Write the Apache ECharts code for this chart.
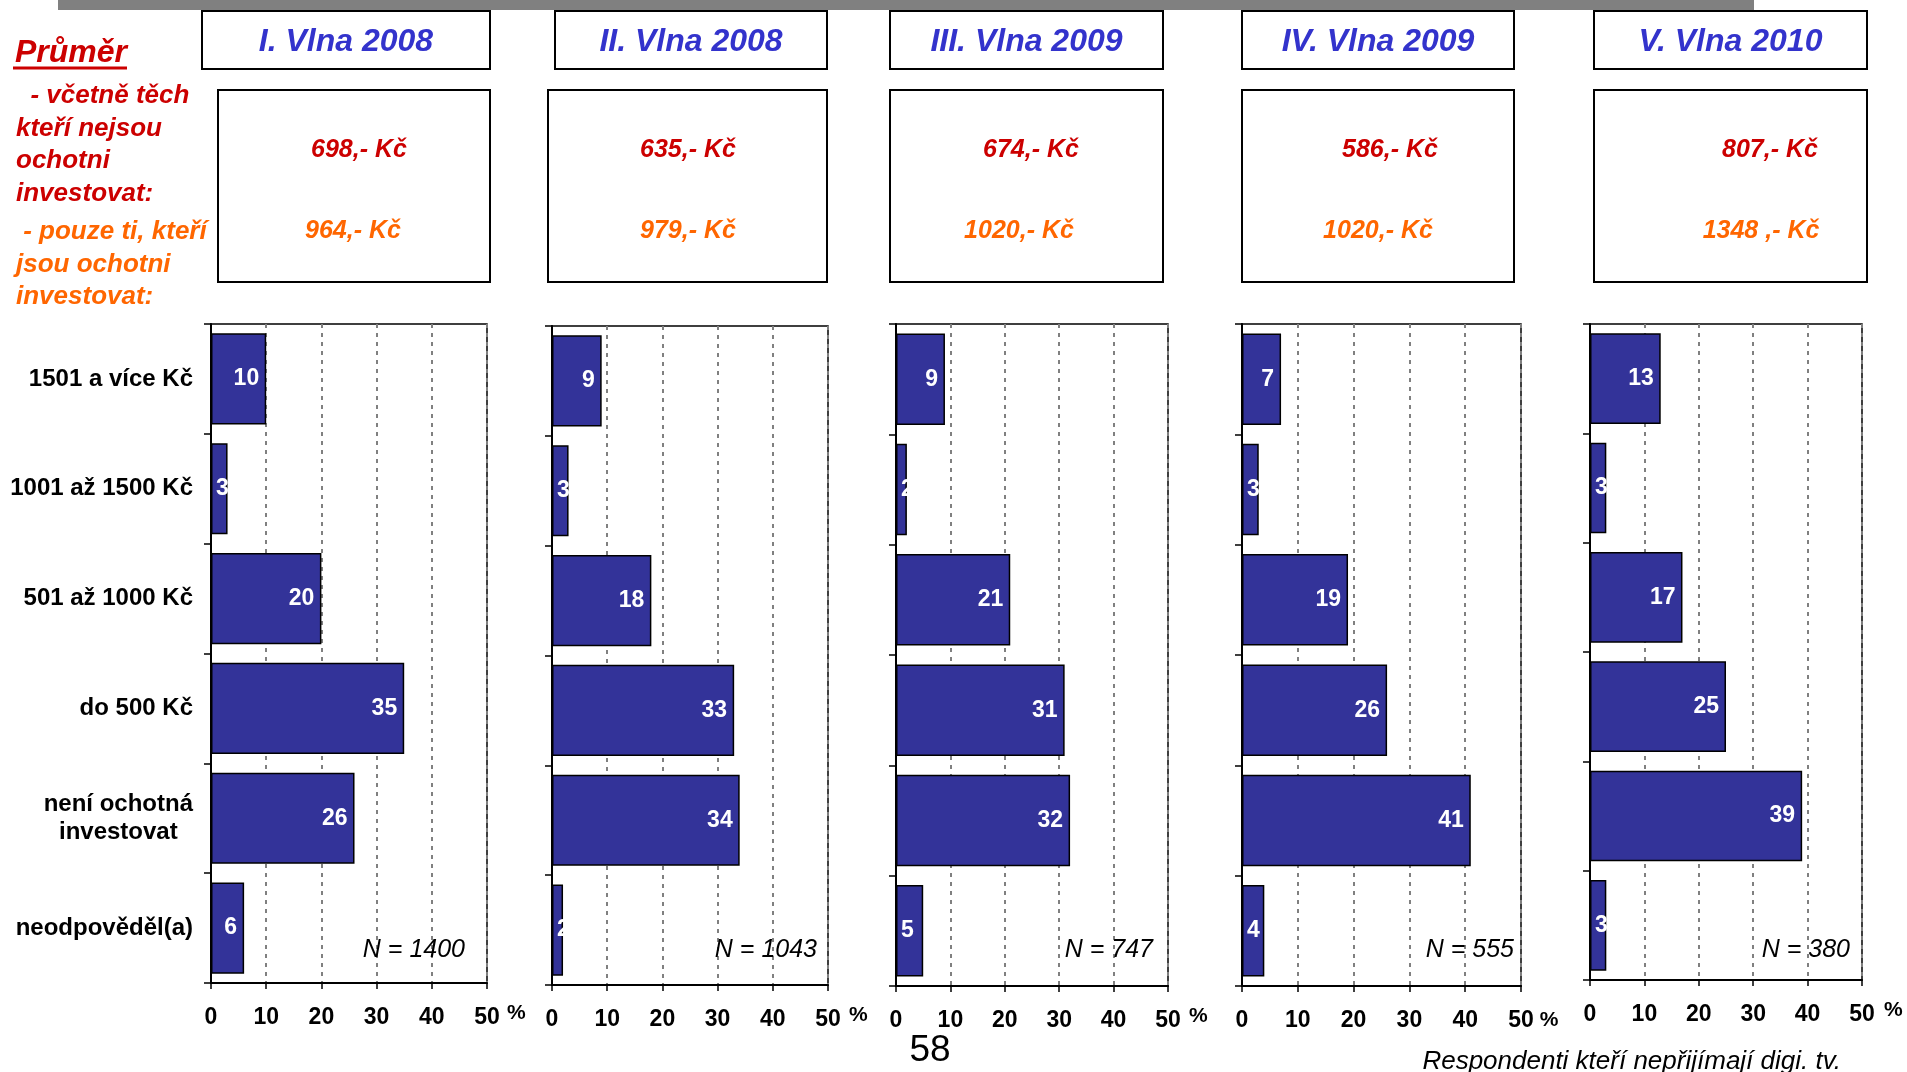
<!DOCTYPE html>
<html><head><meta charset="utf-8">
<script src="https://cdn.jsdelivr.net/npm/echarts@6/dist/echarts.min.js"></script>
<style>html,body{margin:0;padding:0;background:#fff;overflow:hidden}#c{width:1907px;height:1072px}</style>
</head><body><div id="c"></div>
<script>
// ---------- DATA ----------
const categories = ['1501 a více Kč', '1001 až 1500 Kč', '501 až 1000 Kč', 'do 500 Kč', 'není ochotná\ninvestovat', 'neodpověděl(a)'];
const waves = ['I. Vlna 2008', 'II. Vlna 2008', 'III. Vlna 2009', 'IV. Vlna 2009', 'V. Vlna 2010'];
const wave1 = [10, 3, 20, 35, 26, 6];
const wave2 = [9, 3, 18, 33, 34, 2];
const wave3 = [9, 2, 21, 31, 32, 5];
const wave4 = [7, 3, 19, 26, 41, 4];
const wave5 = [13, 3, 17, 25, 39, 3];
const avgAll = ['698,- Kč', '635,- Kč', '674,- Kč', '586,- Kč', '807,- Kč'];
const avgWilling = ['964,- Kč', '979,- Kč', '1020,- Kč', '1020,- Kč', '1348 ,- Kč'];
const sampleN = ['N = 1400', 'N = 1043', 'N = 747', 'N = 555', 'N = 380'];
const legendTitle = 'Průměr';
const legendAll = '  - včetně těch\nkteří nejsou\nochotni\ninvestovat:';
const legendWilling = ' - pouze ti, kteří\njsou ochotni\ninvestovat:';
const pageNumber = '58';
const footnote = 'Respondenti kteří nepřijímají digi. tv.';

// ---------- LAYOUT ----------
const FF = '"Liberation Sans", Arial, Helvetica, sans-serif';
const waveValues = [wave1, wave2, wave3, wave4, wave5];
const layout = [
  {gl: 211, gr: 487, gt: 324, gb: 983, tb: [202, 490], vb: [218, 490], rx: 359, ox: 353, nx: 465, pg: 20, pp: 20},
  {gl: 552, gr: 828, gt: 326, gb: 985, tb: [555, 827], vb: [548, 827], rx: 688, ox: 688, nx: 817, pg: 21, pp: 20},
  {gl: 896, gr: 1168, gt: 324, gb: 986, tb: [890, 1163], vb: [890, 1163], rx: 1031, ox: 1019, nx: 1153, pg: 21, pp: 20},
  {gl: 1242, gr: 1521, gt: 324, gb: 986, tb: [1242, 1514], vb: [1242, 1514], rx: 1390, ox: 1378, nx: 1514, pg: 9, pp: 24},
  {gl: 1590, gr: 1862, gt: 324, gb: 980, tb: [1594, 1867], vb: [1594, 1867], rx: 1770, ox: 1761, nx: 1850, pg: 22, pp: 20}
];

const grids = [], xAxes = [], yAxes = [], series = [], graphics = [];

graphics.push({type: 'rect', shape: {x: 58, y: 0, width: 1696, height: 10}, style: {fill: '#808080'}, silent: true});

function txt(text, x, y, font, fill, align, valign, extra) {
  return {
    type: 'text', silent: true, z: 10,
    style: Object.assign({text: text, x: x, y: y, font: font, fill: fill,
      textAlign: align, align: align, textVerticalAlign: valign, verticalAlign: valign}, extra || {})
  };
}

const barLabel = {show: true, position: 'insideRight', distance: 7, color: '#fff',
  fontSize: 23, fontWeight: 'bold', fontFamily: FF};

layout.forEach((L, i) => {
  grids.push({left: L.gl, top: L.gt, width: L.gr - L.gl, height: L.gb - L.gt,
    show: true, borderColor: '#000', borderWidth: 1.5, backgroundColor: 'transparent'});
  xAxes.push({
    gridIndex: i, type: 'value', min: 0, max: 50, interval: 10,
    name: '%', nameLocation: 'end', nameGap: L.pg,
    nameTextStyle: {fontSize: 21, fontWeight: 'bold', color: '#000', fontFamily: FF,
      verticalAlign: 'top', align: 'left', padding: [L.pp, 0, 0, 0]},
    axisLine: {show: true, onZero: false, lineStyle: {color: '#000', width: 2}},
    axisTick: {show: true, length: 6, lineStyle: {color: '#000', width: 1.5}},
    axisLabel: {fontSize: 23, fontWeight: 'bold', color: '#000', margin: 23, fontFamily: FF},
    splitLine: {show: true, lineStyle: {color: '#808080', type: [4, 5], width: 2}}
  });
  yAxes.push({
    gridIndex: i, type: 'category', data: categories, inverse: true,
    axisLine: {show: true, lineStyle: {color: '#000', width: 2}},
    axisTick: {show: true, length: 7, alignWithLabel: false, lineStyle: {color: '#000', width: 1.5}},
    axisLabel: {
      show: i === 0, margin: 18,
      formatter: v => v.split('\n').map(s => '{c|' + s + '}').join('\n'),
      rich: {c: {fontSize: 24, fontWeight: 'bold', color: '#000', align: 'center', lineHeight: 28, fontFamily: FF}}
    },
    splitLine: {show: false}
  });
  series.push({
    type: 'bar', xAxisIndex: i, yAxisIndex: i,
    // short bars: the label sits at the start of the bar
    data: waveValues[i].map(v => v <= 5 ? {value: v, label: {position: 'insideLeft', distance: 5}} : v),
    barCategoryGap: '17%', silent: true,
    itemStyle: {color: '#333399', borderColor: '#000', borderWidth: 1.5},
    label: barLabel
  });
  graphics.push({type: 'rect', silent: true, z: 5, shape: {x: L.tb[0], y: 11, width: L.tb[1] - L.tb[0], height: 58},
    style: {fill: '#fff', stroke: '#000', lineWidth: 2}});
  graphics.push(txt(waves[i], (L.tb[0] + L.tb[1]) / 2, 42, 'italic bold 32px ' + FF, '#3333CC', 'center', 'middle'));
  graphics.push({type: 'rect', silent: true, z: 5, shape: {x: L.vb[0], y: 90, width: L.vb[1] - L.vb[0], height: 192},
    style: {fill: '#fff', stroke: '#000', lineWidth: 2}});
  graphics.push(txt(avgAll[i], L.rx, 150, 'italic bold 25px ' + FF, '#CC0000', 'center', 'middle'));
  graphics.push(txt(avgWilling[i], L.ox, 231, 'italic bold 25px ' + FF, '#FF6600', 'center', 'middle'));
  graphics.push(txt(sampleN[i], L.nx, 950, 'italic 25px ' + FF, '#000', 'right', 'middle'));
});

graphics.push(txt(legendTitle, 15, 53, 'italic bold 32px ' + FF, '#CC0000', 'left', 'middle'));
graphics.push({type: 'line', silent: true, shape: {x1: 13, y1: 68, x2: 127, y2: 68}, style: {stroke: '#CC0000', lineWidth: 3}});
graphics.push(txt(legendAll, 16, 80, 'italic bold 26px ' + FF, '#CC0000', 'left', 'top', {lineHeight: 32.5}));
graphics.push(txt(legendWilling, 16, 216, 'italic bold 26px ' + FF, '#FF6600', 'left', 'top', {lineHeight: 32.5}));
graphics.push(txt(pageNumber, 930, 1051, '37px ' + FF, '#000', 'center', 'middle'));
graphics.push(txt(footnote, 1841, 1062, 'italic 26px ' + FF, '#000', 'right', 'middle'));

const chart = echarts.init(document.getElementById('c'), null, {renderer: 'canvas', width: 1907, height: 1072});
chart.setOption({
  animation: false,
  backgroundColor: '#fff',
  textStyle: {fontFamily: FF},
  grid: grids, xAxis: xAxes, yAxis: yAxes, series: series,
  graphic: graphics
});
</script></body></html>
